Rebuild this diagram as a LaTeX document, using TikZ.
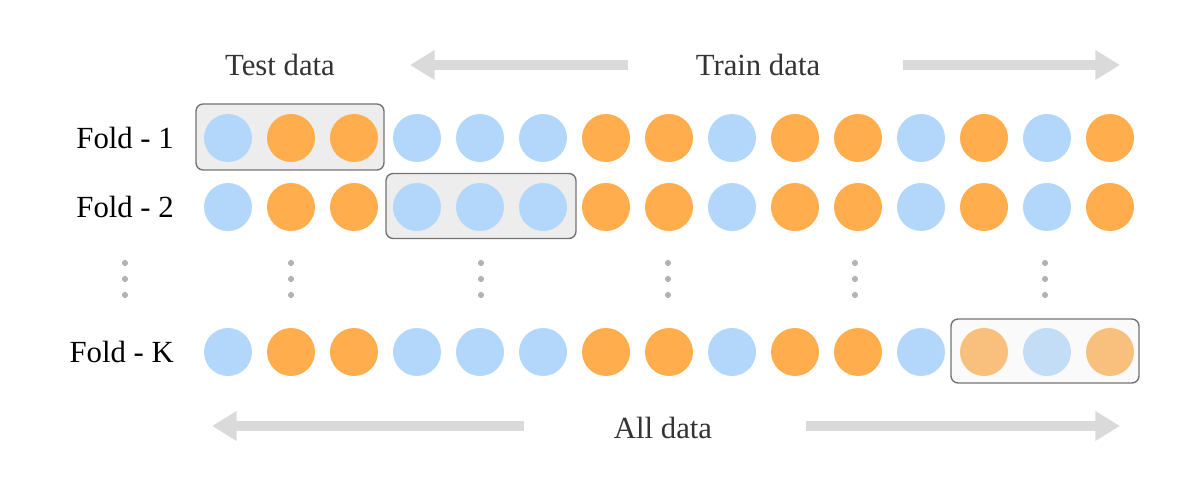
\documentclass[tikz,border=0pt]{standalone}
\usepackage{fontspec}
\setmainfont{Liberation Serif}
\usetikzlibrary{positioning,arrows.meta,fit}
\definecolor{dblue}{HTML}{B3D7FB}
\definecolor{dorange}{HTML}{FFAD4D}
\definecolor{dgray}{HTML}{DADADA}
\begin{document}
\begin{tikzpicture}[x=0.02cm, y=-0.02cm,
b/.style={circle, fill=dblue, minimum size=0.96cm, inner sep=0pt},
o/.style={circle, fill=dorange, minimum size=0.96cm, inner sep=0pt},
box/.style={draw=black!55, fill=black!7, rounded corners=4pt, line width=0.8pt, inner sep=0pt},
lbl/.style={font=\fontsize{17.5}{20}\selectfont, text=black!80},
big/.style={draw=dgray, line width=5.5pt, -{Triangle[length=14pt, width=16pt]}},
dot/.style={circle, fill=black!30, inner sep=0pt, minimum size=3.5pt}]
\useasboundingbox (0,0) rectangle (1200,483);
% test boxes
\node[box, minimum width=3.76cm, minimum height=1.32cm] (t1) at (290,137) {};
\node[box, minimum width=3.8cm, minimum height=1.3cm] (t2) at (481,206) {};
% rows
\foreach \r/\y in {1/138, 2/207, K/352}{
  \node[lbl, text=black, anchor=east] (f\r) at (180,\y) {Fold - \r};
  \foreach \c [count=\i from 0] in {b,o,o,b,b,b,o,o,b,o,o,b,o,b,o}
    \node[\c] (c\r\i) at (228+63*\i,\y) {};
}
\node[box, fill opacity=0.3, minimum width=3.76cm, minimum height=1.28cm] (tK) at (1045,351) {};
% dots
\foreach \x [count=\j] in {125,291,481,668,855,1045}
  \foreach \y [count=\k] in {263,279,295}
    \node[dot] (d\j\k) at (\x,\y) {};
% top labels
\node[lbl] (test) at (280,65) {Test data};
\node[lbl] (train) at (758,65) {Train data};
\coordinate (tl1) at (628,65); \coordinate (tl2) at (410,65);
\coordinate (tr1) at (903,65); \coordinate (tr2) at (1120,65);
\draw[big] (tl1) -- (tl2);
\draw[big] (tr1) -- (tr2);
\node[lbl] (all) at (663,428) {All data};
\coordinate (al1) at (524,426); \coordinate (al2) at (212,426);
\coordinate (ar1) at (806,426); \coordinate (ar2) at (1120,426);
\draw[big] (al1) -- (al2);
\draw[big] (ar1) -- (ar2);
\end{tikzpicture}
\end{document}
